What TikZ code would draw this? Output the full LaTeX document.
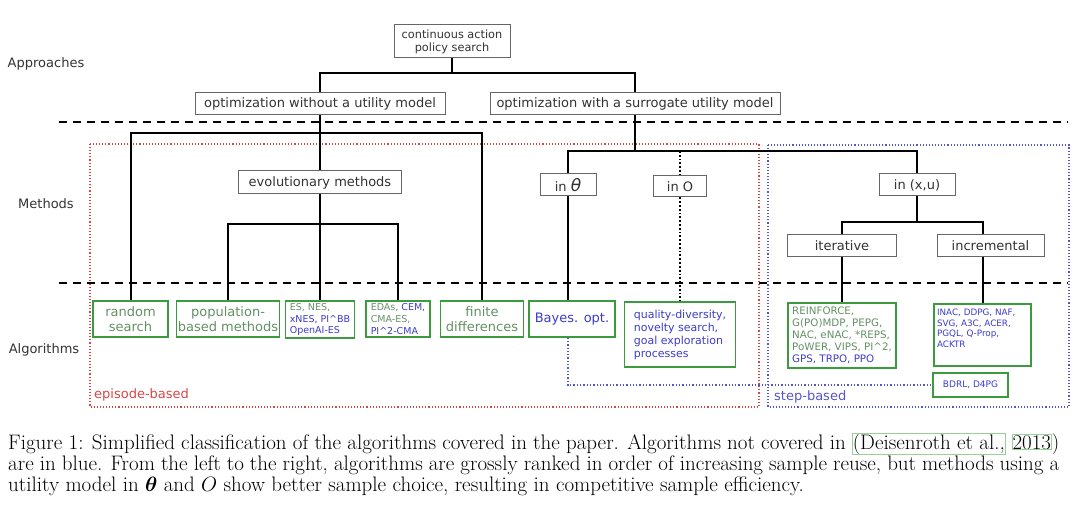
\documentclass[tikz,border=0pt]{standalone}
\usepackage{fontspec}
\usepackage{amsmath,amsbsy}
\newfontfamily\dv{DejaVu Sans}
\definecolor{covg}{RGB}{100,145,100}
\definecolor{bluet}{RGB}{60,60,205}
\definecolor{boxg}{RGB}{60,155,60}
\definecolor{redl}{RGB}{215,70,70}
\definecolor{bluel}{RGB}{85,85,200}
\definecolor{linkg}{RGB}{150,210,150}
\newcommand\lkbox[1]{{\setlength\fboxsep{0pt}\setlength\fboxrule{0.7pt}\color{linkg}\fbox{\color{black}#1}}}
\begin{document}
\begin{tikzpicture}[x=1pt,y=-1pt,
  topbox/.style={draw=black!60,line width=1pt,text=black!80,inner sep=1pt,
    font=\dv\fontsize{13}{14}\selectfont,align=center,fill=white},
  algbox/.style={draw=boxg,line width=1.3pt,inner sep=1pt,
    font=\dv\fontsize{13}{14.5}\selectfont,text=covg,align=center,fill=white},
  smallbox/.style={algbox,font=\dv\fontsize{9.5}{11.7}\selectfont,align=left},
  tree/.style={line width=2pt,black},
  sepline/.style={line width=1.8pt,dash pattern=on 8pt off 6pt},
  lbl/.style={font=\dv\fontsize{13}{14}\selectfont,text=black!80},
  capline/.style={anchor=base west,inner sep=0pt,font=\fontsize{21}{21}\selectfont}]
\useasboundingbox (0,0) rectangle (1080,516);

% region frames
\draw[redl,line width=1.1pt,dotted] (90,144) rectangle (759,407);
\draw[bluel,line width=1.1pt,dotted] (768,145) rectangle (1069,407);
\node[anchor=west,inner sep=0pt,text=redl,font=\dv\fontsize{13}{14}\selectfont] (epi) at (94,395) {episode-based};
\node[anchor=west,inner sep=0pt,text=bluel,font=\dv\fontsize{13}{14}\selectfont] (stepb) at (774,397) {step-based};

% separators
\coordinate (sa1) at (59,122); \coordinate (sa2) at (1068,122);
\coordinate (sb1) at (59,283); \coordinate (sb2) at (1068,283);
\draw[sepline] (sa1) -- (sa2);
\draw[sepline] (sb1) -- (sb2);

% row labels
\node[lbl] (lapp) at (46,64) {Approaches};
\node[lbl] (lmet) at (46,204) {Methods};
\node[lbl] (lalg) at (44,350) {Algorithms};

% top
\node[topbox,minimum width=116,minimum height=33,font=\dv\fontsize{11.3}{13}\selectfont] (root) at (452,41.5) {continuous action\\policy search};
\node[topbox,minimum width=250,minimum height=22] (without) at (320,104) {optimization without a utility model};
\node[topbox,minimum width=290,minimum height=22] (with) at (635,104) {optimization with a surrogate utility model};

% methods
\node[topbox,minimum width=163,minimum height=23] (evo) at (320,182.5) {evolutionary methods};
\node[topbox,minimum width=56,minimum height=22] (intheta) at (568,185) {in {\fontsize{17}{15}\selectfont\itshape θ}};
\node[topbox,minimum width=53,minimum height=21] (ino) at (680,186.5) {in O};
\node[topbox,minimum width=76,minimum height=22] (inxu) at (917,185) {in (x,u)};
\node[topbox,minimum width=109,minimum height=21] (iter) at (842,245.5) {iterative};
\node[topbox,minimum width=107,minimum height=21] (incr) at (990.5,245.5) {incremental};

% algorithms
\node[algbox,minimum width=75,minimum height=36] (rand) at (130.5,319) {random\\search};
\node[algbox,minimum width=102,minimum height=36] (pop) at (228,319) {population-\\based methods};
\node[smallbox,minimum width=69,minimum height=37] (es) at (320,319.5) {ES, NES,\\\textcolor{bluet}{xNES, PI\textasciicircum BB}\\\textcolor{bluet}{OpenAI-ES}};
\node[smallbox,minimum width=64,minimum height=36] (eda) at (398,319) {EDAs, \textcolor{bluet}{CEM,}\\CMA-ES,\\\textcolor{bluet}{PI\textasciicircum 2-CMA}};
\node[algbox,minimum width=83,minimum height=36] (fd) at (482,319) {finite\\differences};
\node[algbox,minimum width=86,minimum height=36,text=bluet] (bayes) at (572,319) {Bayes. opt.};
\node[smallbox,minimum width=111,minimum height=65,text=bluet,font=\dv\fontsize{11}{13}\selectfont] (qd) at (680,334.5) {quality-diversity,\\novelty search,\\goal exploration\\processes};
\node[smallbox,minimum width=108,minimum height=65,font=\dv\fontsize{10.3}{12}\selectfont] (reinf) at (842,335.5) {REINFORCE,\\G(PO)MDP, PEPG,\\NAC, eNAC, *REPS,\\PoWER, VIPS, PI\textasciicircum 2,\\\textcolor{bluet}{GPS, TRPO, PPO}};
\node[draw=boxg,line width=1.3pt,inner sep=0pt,fill=white,text=bluet,font=\dv\fontsize{8.8}{10.5}\selectfont] (inac) at (982.5,335)
  {\parbox[t][62pt][t]{97pt}{\vspace{5pt}\hspace*{3pt}INAC, DDPG, NAF,\\\hspace*{3pt}SVG, A3C, ACER,\\\hspace*{3pt}PGQL, Q-Prop,\\\hspace*{3pt}ACKTR}};
\node[smallbox,minimum width=75,minimum height=24,text=bluet,font=\dv\fontsize{9}{11}\selectfont] (bdrl) at (970.5,385) {BDRL, D4PG};

% tree connectors
\draw[tree] (root.south) -- (root.south |- 0,73);
\draw[tree] (without.north) |- (with.north |- 0,73) -- (with.north);
\draw[tree] (without.south) -- (evo.north);
\draw[tree] (rand.north) |- (fd.north |- 0,133) -- (fd.north);
\draw[tree] (evo.south) -- (es.north);
\draw[tree] (pop.north) |- (eda.north |- 0,224) -- (eda.north);
\draw[tree] (with.south) -- (with.south |- 0,151);
\draw[tree] (intheta.north) |- (inxu.north |- 0,151) -- (inxu.north);
\draw[tree] (intheta.south) -- (intheta.south |- bayes.north);
\draw[black,line width=1.8pt,dotted] (ino.north |- 0,151) -- (ino.north);
\draw[black,line width=1.8pt,dotted] (ino.south) -- (qd.north);
\draw[tree] (inxu.south) -- (inxu.south |- 0,222);
\draw[tree] (iter.north) |- (inac.north |- 0,222) -- (inac.north |- incr.north);
\draw[tree] (iter.south) -- (reinf.north);
\draw[tree] (inac.north |- incr.south) -- (inac.north);
\draw[bluel,line width=1.3pt,dotted] (intheta.south |- bayes.south) |- (bdrl.west);

% caption
\node[capline] (cap1) at (8,449) {\hbox to 1051pt{Figure 1: Simplified classification of the algorithms covered in the paper. Algorithms not covered in \lkbox{(Deisenroth et al.,} \lkbox{2013})}};
\node[capline] (cap2) at (8,470) {\hbox to 1051pt{are in blue. From the left to the right, algorithms are grossly ranked in order of increasing sample reuse, but methods using a}};
\node[capline] (cap3) at (8,491) {utility model in $\boldsymbol{\theta}$ and $O$ show better sample choice, resulting in competitive sample efficiency.};
\end{tikzpicture}
\end{document}
